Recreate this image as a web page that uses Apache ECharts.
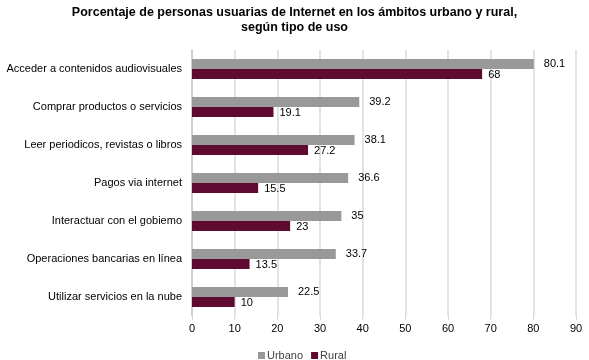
<!DOCTYPE html>
<html><head><meta charset="utf-8">
<script src="https://cdn.jsdelivr.net/npm/echarts@6/dist/echarts.min.js"></script>
<style>html,body{margin:0;padding:0;background:#fff}#c{width:589px;height:360px}</style>
</head><body><div id="c"></div>
<script>
var categories = ["Acceder a contenidos audiovisuales","Comprar productos o servicios","Leer periodicos, revistas o libros","Pagos via internet","Interactuar con el gobiemo","Operaciones bancarias en línea","Utilizar servicios en la nube"];
var urbano = [80.1, 39.2, 38.1, 36.6, 35, 33.7, 22.5];
var rural = [68, 19.1, 27.2, 15.5, 23, 13.5, 10];
var xTicks = [0,10,20,30,40,50,60,70,80,90];

var chart = echarts.init(document.getElementById('c'), null, {renderer:'canvas'});
var font = 'Liberation Sans, Arial, sans-serif';
chart.setOption({
  animation:false,
  title:{text:'Porcentaje de personas usuarias de Internet en los ámbitos urbano y rural,\nsegún tipo de uso',
    left:'center', top:0, textStyle:{fontFamily:font,fontSize:12.5,fontWeight:'bold',color:'#000',lineHeight:15}},
  legend:{top:345,left:253,itemWidth:7,itemHeight:7,itemGap:8,icon:'rect',
    textStyle:{fontFamily:font,fontSize:11,color:'#404040',padding:[0,0,0,-3]},data:['Urbano','Rural']},
  grid:{left:192,right:13,top:50,bottom:44,containLabel:false},
  xAxis:{type:'value',min:0,max:90,interval:10,
    axisLine:{show:false},axisTick:{show:true,length:4,lineStyle:{color:'#d9d9d9'}},
    splitLine:{show:true,lineStyle:{color:'#d9d9d9',width:1.5}},
    axisLabel:{fontFamily:font,fontSize:11,color:'#000',margin:7,formatter:function(v){return xTicks.indexOf(v)>=0?String(v):'';}}},
  yAxis:{type:'category',data:categories,inverse:true,
    axisLine:{show:true,lineStyle:{color:'#c8c8c8',width:1.5}},axisTick:{show:false},
    axisLabel:{fontFamily:font,fontSize:11,color:'#000',margin:10}},
  series:[
    {name:'Urbano',type:'bar',data:urbano,barGap:'0%',barCategoryGap:'47%',
     itemStyle:{color:'#999999'},
     label:{show:true,position:'right',distance:10,offset:[0,0],fontFamily:font,fontSize:11,color:'#000'}},
    {name:'Rural',type:'bar',data:rural,
     itemStyle:{color:'#5f0b31'},
     label:{show:true,position:'right',distance:6,offset:[0,1],fontFamily:font,fontSize:11,color:'#000'}}
  ]
});
</script></body></html>
